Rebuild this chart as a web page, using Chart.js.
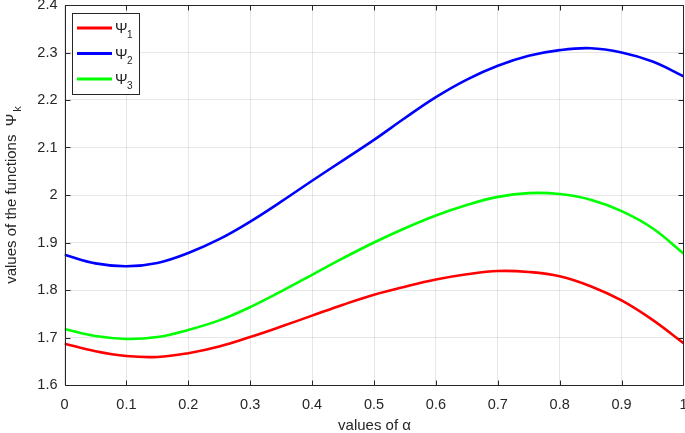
<!DOCTYPE html>
<html>
<head>
<meta charset="utf-8">
<script src="https://cdn.jsdelivr.net/npm/chart.js@4.4.1/dist/chart.umd.min.js"></script>
<style>
  html, body { margin: 0; padding: 0; background: #fff; }
  #wrap { width: 685px; height: 433px; position: relative; }
</style>
</head>
<body>
<div id="wrap"><canvas id="chartPsi"></canvas></div>
<script>
// values of alpha (x axis)
const alphaValues = [0, 0.05, 0.1, 0.15, 0.2, 0.25, 0.3, 0.35, 0.4, 0.45, 0.5,
  0.55, 0.6, 0.65, 0.7, 0.75, 0.8, 0.85, 0.9, 0.95, 1];

const psi1 = [1.687, 1.671, 1.661, 1.659, 1.667, 1.681, 1.701, 1.723, 1.746, 1.769, 1.790,
  1.807, 1.822, 1.833, 1.840, 1.838, 1.829, 1.808, 1.778, 1.737, 1.688];
const psi2 = [1.874, 1.856, 1.850, 1.857, 1.878, 1.907, 1.944, 1.986, 2.030, 2.073, 2.116,
  2.162, 2.206, 2.243, 2.272, 2.293, 2.305, 2.309, 2.300, 2.281, 2.250];
const psi3 = [1.718, 1.703, 1.697, 1.701, 1.716, 1.736, 1.764, 1.797, 1.832, 1.867, 1.900,
  1.930, 1.957, 1.979, 1.996, 2.004, 2.002, 1.990, 1.966, 1.930, 1.877];

const seriesNames = ['1', '2', '3']; // subscripts of Psi
const seriesColors = ['#ff0000', '#0000ff', '#00ff00'];
const xTickValues = [0, 0.1, 0.2, 0.3, 0.4, 0.5, 0.6, 0.7, 0.8, 0.9, 1];
const yTickValues = [1.6, 1.7, 1.8, 1.9, 2, 2.1, 2.2, 2.3, 2.4];

const FONT = "'Liberation Sans', Arial, Helvetica, sans-serif";
const AXIS_COLOR = '#262626';

function toPoints(ys) {
  return alphaValues.map((a, i) => ({ x: a, y: ys[i] }));
}

function fmt(v) {
  return String(Number(v.toFixed(2)));
}

// box, inward ticks, legend and axis titles like the matlab figure
const matlabDecor = {
  id: 'matlabDecor',
  afterDraw(chart) {
    const { ctx, chartArea: a, scales } = chart;
    const xs = scales.x, ys = scales.y;
    const L = Math.round(a.left) + 0.5;
    const R = Math.round(a.right) - 0.5;
    const T = Math.round(a.top) + 0.5;
    const B = Math.round(a.bottom) + 0.5;
    ctx.save();

    // axes box
    ctx.strokeStyle = AXIS_COLOR;
    ctx.lineWidth = 1;
    ctx.beginPath();
    ctx.moveTo(L, T); ctx.lineTo(R, T); ctx.lineTo(R, B); ctx.lineTo(L, B); ctx.closePath();
    ctx.stroke();

    // inward ticks on all four sides
    const tl = 5;
    ctx.beginPath();
    xTickValues.forEach(v => {
      const px = Math.min(Math.round(xs.getPixelForValue(v)) + 0.5, R);
      ctx.moveTo(px, B); ctx.lineTo(px, B - tl);
      ctx.moveTo(px, T); ctx.lineTo(px, T + tl);
    });
    yTickValues.forEach(v => {
      const py = Math.round(ys.getPixelForValue(v)) + 0.5;
      ctx.moveTo(L, py); ctx.lineTo(L + tl, py);
      ctx.moveTo(R, py); ctx.lineTo(R - tl, py);
    });
    ctx.stroke();

    // legend
    const lx = 72.5, ly = 13.5, lw = 67, lh = 81;
    ctx.fillStyle = '#fff';
    ctx.fillRect(lx, ly, lw, lh);
    ctx.strokeStyle = AXIS_COLOR;
    ctx.strokeRect(lx, ly, lw, lh);
    chart.data.datasets.forEach((ds, i) => {
      const yy = 28 + i * 25.5;
      ctx.strokeStyle = ds.borderColor;
      ctx.lineWidth = 3;
      ctx.beginPath();
      ctx.moveTo(77, yy); ctx.lineTo(112, yy);
      ctx.stroke();
      ctx.fillStyle = AXIS_COLOR;
      ctx.textBaseline = 'alphabetic';
      ctx.textAlign = 'left';
      ctx.font = '15px ' + FONT;
      ctx.fillText('\u03A8', 115, yy + 5);
      ctx.font = '10px ' + FONT;
      ctx.fillText(seriesNames[i], 127, yy + 10);
    });

    // x axis title
    ctx.fillStyle = AXIS_COLOR;
    ctx.font = '15px ' + FONT;
    ctx.textAlign = 'center';
    ctx.textBaseline = 'alphabetic';
    ctx.fillText('values of \u03B1', (L + R) / 2, 430);

    // y axis title with subscript k
    const main = 'values of the functions  \u03A8';
    ctx.font = '15px ' + FONT;
    const w1 = ctx.measureText(main).width;
    ctx.font = '11px ' + FONT;
    const w2 = ctx.measureText('k').width + 2;
    ctx.translate(16, (a.top + a.bottom) / 2);
    ctx.rotate(-Math.PI / 2);
    const start = -(w1 + w2) / 2;
    ctx.textAlign = 'left';
    ctx.font = '15px ' + FONT;
    ctx.fillText(main, start, 0);
    ctx.font = '11px ' + FONT;
    ctx.fillText('k', start + w1 + 2, 5);

    ctx.restore();
  }
};

const ctxPsi = document.getElementById('chartPsi');
const chartPsi = new Chart(ctxPsi, {
  type: 'line',
  data: {
    datasets: [
      { label: 'Psi1', data: toPoints(psi1), borderColor: seriesColors[0] },
      { label: 'Psi2', data: toPoints(psi2), borderColor: seriesColors[1] },
      { label: 'Psi3', data: toPoints(psi3), borderColor: seriesColors[2] },
    ].map(ds => Object.assign(ds, {
      borderWidth: 2.6,
      pointRadius: 0,
      fill: false,
      tension: 0.4,
    }))
  },
  options: {
    responsive: true,
    maintainAspectRatio: false,
    animation: false,
    devicePixelRatio: 1,
    layout: { autoPadding: false, padding: { top: 5, right: 1.5, left: 0, bottom: 0 } },
    plugins: {
      legend: { display: false },
      tooltip: { enabled: false },
    },
    scales: {
      x: {
        type: 'linear',
        min: 0,
        max: 1,
        afterBuildTicks: s => { s.ticks = xTickValues.map(v => ({ value: v })); },
        afterFit: s => { s.height = 48; s.paddingLeft = 0; s.paddingRight = 0; },
        border: { display: false },
        grid: { color: 'rgba(38,38,38,0.11)', drawTicks: false },
        ticks: {
          padding: 11,
          color: AXIS_COLOR,
          font: { family: FONT, size: 14.5 },
          maxRotation: 0,
          callback: v => fmt(v),
        },
      },
      y: {
        type: 'linear',
        min: 1.6,
        max: 2.4,
        afterBuildTicks: s => { s.ticks = yTickValues.map(v => ({ value: v })); },
        afterFit: s => { s.width = 64.5; s.paddingTop = 0; s.paddingBottom = 0; },
        border: { display: false },
        grid: { color: 'rgba(38,38,38,0.11)', drawTicks: false },
        ticks: {
          padding: 7,
          color: AXIS_COLOR,
          font: { family: FONT, size: 14.5 },
          callback: v => fmt(v),
        },
      },
    },
  },
  plugins: [matlabDecor],
});
</script>
</body>
</html>
